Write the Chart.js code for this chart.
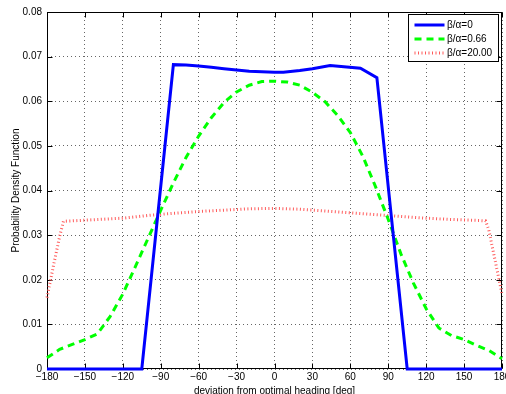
<!DOCTYPE html>
<html><head><meta charset="utf-8">
<script src="https://cdn.jsdelivr.net/npm/chart.js@4.4.0/dist/chart.umd.min.js"></script>
<style>html,body{margin:0;padding:0;background:#fff}canvas{display:block}</style>
</head><body>
<canvas id="c" width="506" height="394"></canvas>
<script>
// ---- data ----
const xTickValues = [-180,-150,-120,-90,-60,-30,0,30,60,90,120,150,180];
const yTickValues = [0,0.01,0.02,0.03,0.04,0.05,0.06,0.07,0.08];
const seriesLabels = ['β/α=0','β/α=0.66','β/α=20.00'];
const xTitle = 'deviation from optimal heading [deg]';
const yTitle = 'Probability Density Function';

const blueDeg = [-180,-105,-80,-70,-60,-50,-40,-30,-20,-10,0,7,20,30,44,68,81,105,180];
const blueVal = [0,0,0.0682,0.0681,0.0679,0.0676,0.0673,0.0670,0.0667,0.0666,0.0665,0.0665,0.0669,0.0673,0.0680,0.0674,0.0653,0,0];

const greenDeg = [-180,-170,-160,-150,-140,-130,-120,-110,-100,-90,-80,-70,-60,-50,-40,-30,-20,-10,0,10,20,30,40,50,60,70,80,90,100,110,120,130,140,150,160,170,180];
const greenVal = [0.0025,0.0044,0.0055,0.0066,0.0079,0.0118,0.0168,0.0230,0.0293,0.0356,0.0417,0.0474,0.0522,0.0563,0.0597,0.0621,0.0636,0.0644,0.0645,0.0643,0.0636,0.0620,0.0599,0.0568,0.0530,0.0476,0.0408,0.0335,0.0258,0.0192,0.0135,0.0092,0.0075,0.0066,0.0053,0.0041,0.0023];

const redDeg = [-180,-175,-170,-167,-160,-140,-120,-100,-80,-60,-40,-20,0,20,40,60,80,100,120,140,160,167,169.5,175,180];
const redVal = [0.0160,0.0230,0.0297,0.0331,0.0332,0.0335,0.0338,0.0344,0.0349,0.0353,0.0356,0.0359,0.0360,0.0358,0.0354,0.0350,0.0346,0.0342,0.0338,0.0335,0.0333,0.0332,0.0312,0.0237,0.0168];

const zip = (xs, ys) => xs.map((x, i) => ({x, y: ys[i]}));
const FONT = "'Liberation Sans', Arial, Helvetica, sans-serif";

const boxPlugin = {
  id: 'box',
  beforeDatasetsDraw(chart) {
    const {ctx, chartArea: a, scales: {x, y}} = chart;
    ctx.save();
    ctx.strokeStyle = '#000';
    ctx.lineWidth = 1;
    const L = Math.round(a.left) + 0.5, R = Math.round(a.right) - 0.5;
    const T = Math.round(a.top) + 0.5, B = Math.round(a.bottom) - 0.5;
    ctx.strokeRect(L, T, R - L, B - T);
    ctx.beginPath();
    xTickValues.forEach(v => {
      const px = Math.round(x.getPixelForValue(v)) + 0.5;
      ctx.moveTo(px, B); ctx.lineTo(px, B - 5);
      ctx.moveTo(px, T); ctx.lineTo(px, T + 5);
    });
    yTickValues.forEach(v => {
      const py = Math.round(y.getPixelForValue(v)) + 0.5;
      ctx.moveTo(L, py); ctx.lineTo(L + 5, py);
      ctx.moveTo(R, py); ctx.lineTo(R - 5, py);
    });
    ctx.stroke();
    ctx.restore();
  }
};

const legendPlugin = {
  id: 'boxLegend',
  afterDraw(chart) {
    const {ctx, chartArea: a} = chart;
    const w = 90, h = 47;
    const bx = Math.round(a.right) - 4 - w + 0.5, by = Math.round(a.top) + 2 + 0.5;
    ctx.save();
    ctx.fillStyle = '#fff';
    ctx.fillRect(bx, by, w, h);
    ctx.strokeStyle = '#000';
    ctx.lineWidth = 1;
    ctx.strokeRect(bx, by, w, h);
    ctx.font = '10px ' + FONT;
    ctx.textBaseline = 'middle';
    ctx.textAlign = 'left';
    chart.data.datasets.forEach((ds, i) => {
      const yy = by + 10.5 + i * 14;
      ctx.beginPath();
      ctx.strokeStyle = ds.borderColor;
      ctx.lineWidth = ds.legendWidth;
      ctx.setLineDash(ds.borderDash || []);
      ctx.moveTo(bx + 6, yy); ctx.lineTo(bx + 36, yy);
      ctx.stroke();
      ctx.setLineDash([]);
      ctx.fillStyle = '#000';
      ctx.fillText(ds.label, bx + 38.5, yy);
    });
    ctx.restore();
  }
};

new Chart(document.getElementById('c'), {
  type: 'line',
  data: {
    datasets: [
      {label: seriesLabels[0], data: zip(blueDeg, blueVal), borderColor: '#0000ff', borderWidth: 3, legendWidth: 3, pointRadius: 0, tension: 0, fill: false, clip: false},
      {label: seriesLabels[1], data: zip(greenDeg, greenVal), borderColor: '#00ff00', borderWidth: 3, legendWidth: 3, borderDash: [7, 5], pointRadius: 0, tension: 0, fill: false, clip: false},
      {label: seriesLabels[2], data: zip(redDeg, redVal), borderColor: '#ff5a5a', borderWidth: 3, legendWidth: 3, borderDash: [1, 2.5], pointRadius: 0, tension: 0, fill: false, clip: false}
    ]
  },
  options: {
    responsive: false,
    animation: false,
    devicePixelRatio: 1,
    layout: {padding: {left: 0, right: 4, top: 12, bottom: 0}},
    plugins: {legend: {display: false}, tooltip: {enabled: false}},
    scales: {
      x: {
        type: 'linear', min: -180, max: 180,
        afterBuildTicks: s => { s.ticks = xTickValues.map(v => ({value: v})); },
        afterFit: s => { s.height = 25; s.paddingLeft = 0; s.paddingRight = 0; },
        ticks: {
          padding: 2, color: '#000', font: {family: FONT, size: 10}, maxRotation: 0, autoSkip: false,
          callback: v => (v < 0 ? '\u2212' + Math.abs(v) : String(v))
        },
        grid: {color: 'rgba(0,0,0,0.6)', lineWidth: 1, drawTicks: false},
        border: {display: false, dash: [1, 3]},
        title: {display: true, text: xTitle, color: '#000', font: {family: FONT, size: 10}, padding: {top: 0, bottom: -3}}
      },
      y: {
        type: 'linear', min: 0, max: 0.08,
        afterBuildTicks: s => { s.ticks = yTickValues.map(v => ({value: v})); },
        afterFit: s => { s.width = 47; s.paddingTop = 0; s.paddingBottom = 0; },
        ticks: {
          padding: 5, color: '#000', font: {family: FONT, size: 10}, autoSkip: false,
          callback: v => (v === 0 ? '0' : v.toFixed(2))
        },
        grid: {color: 'rgba(0,0,0,0.6)', lineWidth: 1, drawTicks: false},
        border: {display: false, dash: [1, 3]},
        title: {display: true, text: yTitle, color: '#000', font: {family: FONT, size: 10}, padding: {top: 10, bottom: 0}}
      }
    }
  },
  plugins: [boxPlugin, legendPlugin]
});
</script>
</body></html>
